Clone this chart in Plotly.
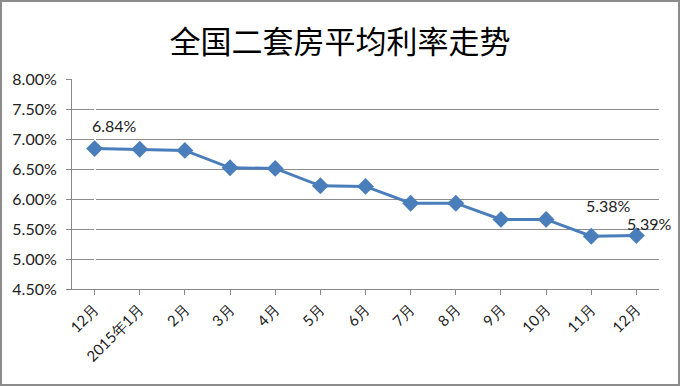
import plotly.graph_objects as go

categories = ["12月", "2015年1月", "2月", "3月", "4月", "5月", "6月", "7月", "8月", "9月", "10月", "11月", "12月"]
rates = [6.84, 6.83, 6.81, 6.52, 6.51, 6.22, 6.21, 5.93, 5.93, 5.66, 5.66, 5.38, 5.39]
y_ticks = [4.5, 5.0, 5.5, 6.0, 6.5, 7.0, 7.5, 8.0]
labeled = {0: (20, 23), 11: (17, 31), 12: (13, 12)}

W, H = 680, 386
L, R, T, B = 72, 21, 79, 97
pw, ph = W - L - R, H - T - B

xs = list(range(len(categories)))

fig = go.Figure()
fig.add_trace(go.Scatter(
    x=xs, y=rates, mode="lines+markers",
    line=dict(color="#4A7EBB", width=3),
    marker=dict(symbol="diamond", size=13, color="#4A7EBB"),
    hoverinfo="skip", showlegend=False,
))

for i, (dx, dy) in labeled.items():
    fig.add_annotation(x=xs[i], y=rates[i], text=f"{rates[i]:.2f}%", showarrow=False,
                       xshift=dx, yshift=dy, font=dict(family="Lato", size=16, color="#222"))

def px_x(p):
    return (p - L) / pw

def px_y(p):
    return (H - B - p) / ph

fig.add_shape(type="rect", xref="paper", yref="paper",
              x0=px_x(1), x1=px_x(W - 1), y0=px_y(H - 1), y1=px_y(1),
              line=dict(color="#8C8C8C", width=2), layer="below")

fig.update_layout(
    width=W, height=H,
    margin=dict(l=L, r=R, t=T, b=B),
    paper_bgcolor="white", plot_bgcolor="white",
    title=dict(text="全国二套房平均利率走势", x=0.5, xanchor="center", y=1 - 42 / H, yanchor="middle",
               font=dict(family="Noto Sans CJK SC", size=31, color="#000")),
    xaxis=dict(
        tickmode="array", tickvals=xs, ticktext=categories, range=[-0.5, len(categories) - 0.5],
        tickangle=-45, tickson="boundaries", ticks="outside", ticklen=5, tickcolor="#888",
        showline=True, linecolor="#888", linewidth=1, showgrid=False,
        tickfont=dict(family="Lato", size=15, color="#222"),
    ),
    yaxis=dict(
        range=[4.5, 8.0], tickvals=y_ticks, ticktext=[f"{v:.2f}%" for v in y_ticks],
        ticks="outside", ticklen=5, tickcolor="#888", ticklabelstandoff=6,
        showline=True, linecolor="#888", linewidth=1,
        showgrid=True, gridcolor="#8C8C8C", gridwidth=1, zeroline=False,
        tickfont=dict(family="Lato", size=16, color="#222"),
    ),
)

fig.write_html("out.html")
